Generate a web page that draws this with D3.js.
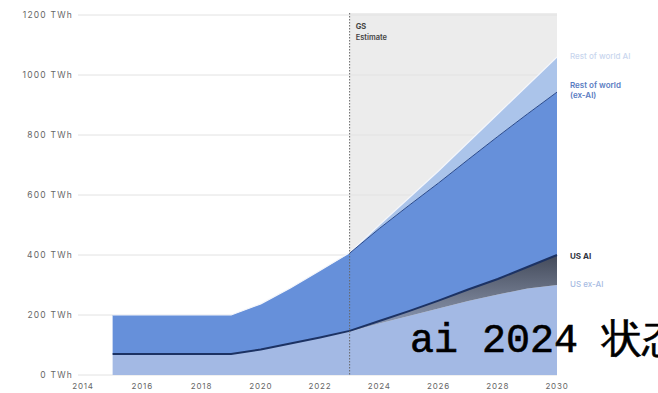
<!DOCTYPE html>
<html><head><meta charset="utf-8">
<script src="https://cdn.jsdelivr.net/npm/d3@7"></script>
<style>
html,body{margin:0;padding:0;background:#fff;}
svg{display:block;}
</style></head>
<body><svg id="c" width="658" height="393"></svg>
<script>
const years = [2015,2016,2017,2018,2019,2020,2021,2022,2023,2024,2025,2026,2027,2028,2029,2030];
const usExAI  = [70,70,70,70,70,85,105,125,144,172,197,222,247,268,288,300];
const usAI    = [0,0,0,0,0,0,0,0,3,8,16,26,38,52,72,100];
const rowExAI = [130,130,130,130,130,152,185,223,259,308,352,392,433,475,510,543];
const rowAI   = [0,0,0,0,0,0,0,0,2,12,25,40,57,75,95,117];
const yTicks = [0,200,400,600,800,1000,1200];
const xTicks = [2014,2016,2018,2020,2022,2024,2026,2028,2030];
const estimateStart = 2023;
const seriesNames = ["usExAI","usAI","rowExAI","rowAI"];

const table = years.map((y,i)=>({year:y, usExAI:usExAI[i], usAI:usAI[i], rowExAI:rowExAI[i], rowAI:rowAI[i]}));

const svg = d3.select("#c");
const x = d3.scaleLinear().domain([2014,2030]).range([83,557]);
const y = d3.scaleLinear().domain([0,1200]).range([375,15]);
const font = "Inter, 'Noto Sans', sans-serif";

svg.append("rect").attr("x",x(estimateStart)).attr("y",y(1200)-2)
  .attr("width",x(2030)-x(estimateStart)).attr("height",y(0)-y(1200)+2)
  .attr("fill","#ececec");

svg.append("g").selectAll("line").data(yTicks).join("line")
  .attr("x1",78).attr("x2",x(2030)).attr("y1",d=>y(d)).attr("y2",d=>y(d))
  .attr("stroke","#e2e2e2").attr("stroke-width",1);

svg.append("g").selectAll("text").data(yTicks).join("text")
  .attr("x",73).attr("y",d=>y(d)+3).attr("text-anchor","end")
  .attr("font-family",font).attr("font-size",8.5).attr("letter-spacing",1.2)
  .attr("fill","#666").text(d=>d+" TWh");

svg.append("g").selectAll("text").data(xTicks).join("text")
  .attr("x",d=>x(d)).attr("y",389).attr("text-anchor","middle")
  .attr("font-family",font).attr("font-size",8).attr("letter-spacing",0.8)
  .attr("fill","#666").text(d=>d);

const stack = d3.stack().keys(seriesNames);
const layers = stack(table);
const colors = {usExAI:"#a3b9e4", usAI:"url(#grayGrad)", rowExAI:"#6690da", rowAI:"#abc4ea"};

const defs = svg.append("defs");
const g = defs.append("linearGradient").attr("id","grayGrad").attr("x1",0).attr("x2",0).attr("y1",0).attr("y2",1);
g.append("stop").attr("offset","0%").attr("stop-color","#434a5a");
g.append("stop").attr("offset","45%").attr("stop-color","#737c90");
g.append("stop").attr("offset","100%").attr("stop-color","#9fb3da");

const area = d3.area().x(d=>x(d.data.year)).y0(d=>y(d[0])).y1(d=>y(d[1]));
svg.append("g").selectAll("path").data(layers).join("path")
  .attr("d",area).attr("fill",d=>colors[d.key]);

const topLine = d3.line().x(d=>x(d.data.year)).y(d=>y(d[1]));
svg.append("path").datum(layers[3]).attr("d",topLine).attr("fill","none")
  .attr("stroke","#f4f6fb").attr("stroke-width",1.2);
svg.append("path").datum(layers[2].filter(d=>d.data.year>=estimateStart)).attr("d",topLine).attr("fill","none")
  .attr("stroke","#2a4a8c").attr("stroke-width",1);
svg.append("path").datum(layers[1]).attr("d",topLine).attr("fill","none")
  .attr("stroke","#1c3263").attr("stroke-width",2);

svg.append("line").attr("x1",x(estimateStart)).attr("x2",x(estimateStart))
  .attr("y1",y(1200)-2).attr("y2",y(0)).attr("stroke","#666").attr("stroke-width",1)
  .attr("stroke-dasharray","1.5,1.5");

svg.append("text").attr("x",x(estimateStart)+6).attr("y",29).attr("font-family",font)
  .attr("font-size",7.5).attr("font-weight",700).attr("fill","#444").text("GS");
svg.append("text").attr("x",x(estimateStart)+6).attr("y",40).attr("font-family",font)
  .attr("font-size",7.5).attr("font-weight",600).attr("fill","#444").text("Estimate");

const lx = 570;
const lab = (t,yy,c,w)=>svg.append("text").attr("x",lx).attr("y",yy).attr("font-family",font)
  .attr("font-size",8).attr("font-weight",w).attr("fill",c).text(t);
lab("Rest of world AI",59,"#c9d6ee",500);
lab("Rest of world",88,"#5a7cc2",600);
lab("(ex-AI)",98,"#5a7cc2",600);
lab("US AI",259,"#2f3440",700);
lab("US ex-AI",287,"#a7bbe2",500);

svg.append("text").attr("x",410).attr("y",352)
  .attr("font-family","'Liberation Mono', monospace").attr("font-weight",400)
  .attr("font-size",40).attr("fill","#000").attr("stroke","#000").attr("stroke-width",0.6)
  .text("ai 2024 状态");
</script>
</body></html>
